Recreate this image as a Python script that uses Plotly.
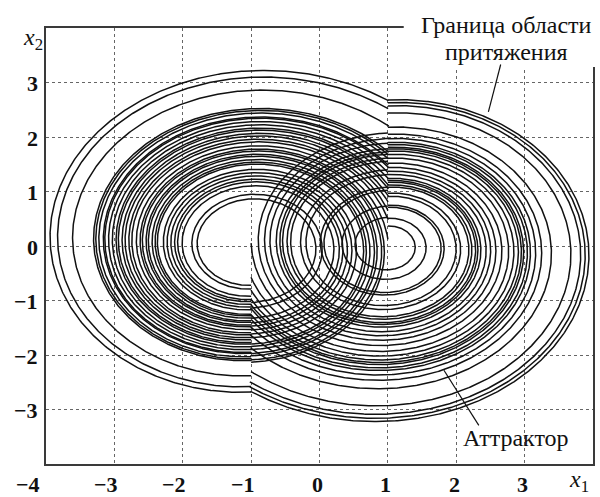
import numpy as np
import plotly.graph_objects as go

# ---- data ----
# centres of the two spiral families (x1, x2)
LEFT_CENTER = (-1.0, 0.0)
RIGHT_CENTER = (1.0, 0.0)
SWITCH_X = 1.0            # hysteresis switching lines x1 = +1 / -1
GROWTH_PER_HALF_TURN = 1.2

# radius of each left-family turn where it starts (bottom, x1 = -1)
LEFT_R = [2.68, 2.58, 2.38, 2.10, 2.07, 2.03, 1.97, 1.95, 1.90, 1.85,
          1.80, 1.77, 1.72, 1.68, 1.63, 1.59, 1.53, 1.48, 1.45, 1.40,
          1.37, 1.32, 1.28, 1.25, 1.17, 1.12, 1.07, 1.02, 0.98, 0.92,
          0.79, 0.72]
# radius of each right-family turn where it starts (top, x1 = +1)
RIGHT_R = [2.68, 2.63, 2.57, 2.44, 2.18, 2.05, 1.97, 1.90, 1.86, 1.81,
           1.78, 1.74, 1.68, 1.61, 1.52, 1.44, 1.37, 1.31, 1.24, 1.20,
           1.17, 1.12, 1.08, 0.97, 0.91, 0.75, 0.71, 0.51, 0.365]

X_TICKS = [-4, -3, -2, -1, 0, 1, 2, 3]
X_TICK_TEXT = ["−4", "−3", "−2", "−1", "0", "1", "2", "3"]
Y_TICKS = [-3, -2, -1, 0, 1, 2, 3]
Y_TICK_TEXT = ["−3", "−2", "−1", "0", "1", "2", "3"]
AX_RANGE = [-4, 4]

LABEL_BOUNDARY = ["Граница области", "притяжения"]
LABEL_ATTRACTOR = "Аттрактор"

k = np.log(GROWTH_PER_HALF_TURN) / np.pi
phi = np.linspace(0, 2 * np.pi, 721)


def turn(center, r0, theta0, stop):
    th = theta0 - phi
    r = r0 * np.exp(k * phi)
    x = center[0] + r * np.cos(th)
    y = center[1] + r * np.sin(th)
    idx = np.nonzero(stop(x, phi))[0]
    if len(idx):
        n = idx[0] + 1
        x, y = x[:n], y[:n]
    return list(x) + [None], list(y) + [None]


lx, ly = [], []
for r0 in LEFT_R:
    a, b = turn(LEFT_CENTER, r0, -np.pi / 2,
                lambda x, p: (x >= SWITCH_X) & (p > np.pi / 2))
    lx += a
    ly += b

rx, ry = [], []
for r0 in RIGHT_R:
    a, b = turn(RIGHT_CENTER, r0, np.pi / 2,
                lambda x, p: (x <= -SWITCH_X) & (p > np.pi / 2))
    rx += a
    ry += b

line_style = dict(color="#111111", width=1.5)
fig = go.Figure()
fig.add_trace(go.Scatter(x=lx, y=ly, mode="lines", line=line_style,
                         hoverinfo="skip", showlegend=False))
fig.add_trace(go.Scatter(x=rx, y=ry, mode="lines", line=line_style,
                         hoverinfo="skip", showlegend=False))

serif = "Liberation Serif"
tick_font = dict(family=serif, size=22, color="#111", weight="bold")
text_font = dict(family=serif, size=24, color="#111")
ax = dict(range=AX_RANGE, tickvals=X_TICKS, showticklabels=False, ticks="",
          showgrid=True, gridcolor="#666", gridwidth=1, griddash="3px,3px",
          zeroline=False, showline=True, mirror=True, linecolor="#3a3a3a",
          linewidth=1.5, fixedrange=True)
fig.update_layout(
    width=600, height=497,
    margin=dict(l=46, r=5, t=28, b=33),
    paper_bgcolor="white", plot_bgcolor="white",
    xaxis=dict(ax),
    yaxis=dict(ax, tickvals=Y_TICKS),
    font=text_font,
)

ann = []
for v, t in zip(X_TICKS, X_TICK_TEXT):
    ann.append(dict(x=v, xref="x", y=0, yref="paper", text=t, showarrow=False,
                    xanchor="right", yanchor="middle",
                    xshift=(-4 if v == -4 else 5.5), yshift=-20, font=tick_font))
for v, t in zip(Y_TICKS, Y_TICK_TEXT):
    ann.append(dict(x=0, xref="paper", y=v, yref="y", text=t, showarrow=False,
                    xanchor="right", yanchor="middle", xshift=-6, yshift=-1,
                    font=tick_font))
ann.append(dict(x=0, xref="paper", y=1, yref="paper", text="<i>x</i><sub>2</sub>",
                showarrow=False, xanchor="center", yanchor="middle",
                xshift=-13, yshift=-11, font=text_font))
ann.append(dict(x=1, xref="paper", y=0, yref="paper", text="<i>x</i><sub>1</sub>",
                showarrow=False, xanchor="center", yanchor="middle",
                xshift=-14, yshift=-17, font=text_font))
ann.append(dict(x=1, xref="paper", y=1, yref="paper", text=LABEL_BOUNDARY[0],
                showarrow=False, xanchor="center", yanchor="middle",
                xshift=-87, yshift=3, font=text_font))
ann.append(dict(x=1, xref="paper", y=1, yref="paper", text=LABEL_BOUNDARY[1],
                showarrow=False, xanchor="center", yanchor="middle",
                xshift=-87, yshift=-24, font=text_font))
ann.append(dict(x=2.87, xref="x", y=-3.53, yref="y", text=LABEL_ATTRACTOR,
                showarrow=False, xanchor="center", yanchor="middle",
                font=text_font))
fig.update_layout(annotations=ann)

fig.add_shape(type="rect", xref="paper", yref="paper", x0=0.654, x1=1.05,
              y0=0.9106, y1=1.1, fillcolor="white", line_width=0, layer="above")
fig.add_shape(type="line", xref="x", yref="y", x0=2.65, y0=3.33, x1=2.47, y1=2.46,
              line=dict(color="#111", width=1.2), layer="above")
fig.add_shape(type="line", xref="x", yref="y", x0=2.33, y0=-3.29, x1=1.82, y1=-2.28,
              line=dict(color="#111", width=1.2), layer="above")

fig.write_html("out.html")
